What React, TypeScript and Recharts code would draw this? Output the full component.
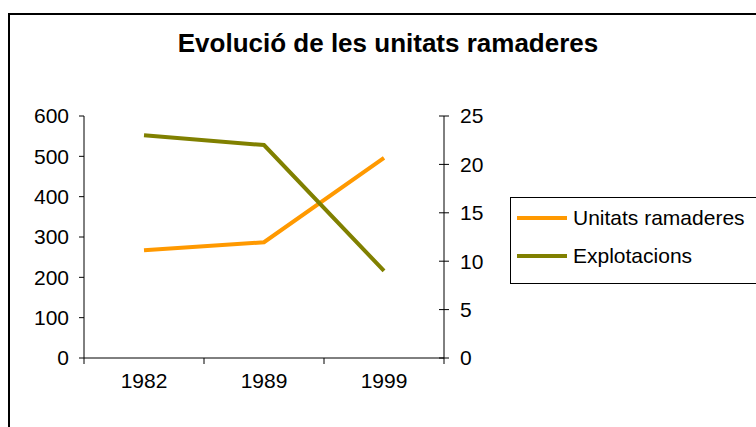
import React from 'react'
import { LineChart, Line, XAxis, YAxis, Legend } from 'recharts'

const years = ['1982', '1989', '1999']
const unitatsRamaderes = [267, 287, 496]
const explotacions = [23, 22, 9]
const leftTicks = [0, 100, 200, 300, 400, 500, 600]
const rightTicks = [0, 5, 10, 15, 20, 25]

const seriesInfo = [
  { key: 'unitats', name: 'Unitats ramaderes', color: '#FF9900', axis: 'left' },
  { key: 'explotacions', name: 'Explotacions', color: '#808000', axis: 'right' },
]

const chartData = years.map((year, i) => ({
  year,
  unitats: unitatsRamaderes[i],
  explotacions: explotacions[i],
}))

const FONT = '"Liberation Sans", Arial, Helvetica, sans-serif'
const FONT_SIZE = 21
// half of one category band (plot is 360px wide, 3 categories)
const HALF_BAND = 60

// x axis: label at category centre, tick marks at category boundaries
const CategoryTick = (props: any) => {
  const { x, y, payload, index, visibleTicksCount } = props
  const isLast = index === visibleTicksCount - 1
  return (
    <g>
      <line x1={x - HALF_BAND} y1={y} x2={x - HALF_BAND} y2={y + 6} stroke="#000" />
      {isLast && <line x1={x + HALF_BAND} y1={y} x2={x + HALF_BAND} y2={y + 6} stroke="#000" />}
      <text x={x} y={y + 15} dy="0.71em" textAnchor="middle" fill="#000" fontSize={FONT_SIZE} fontFamily={FONT}>
        {payload.value}
      </text>
    </g>
  )
}

// right axis: tick mark crosses the axis line
const RightTick = (props: any) => {
  const { x, y, payload } = props
  return (
    <g>
      <line x1={x - 21} y1={y} x2={x - 11} y2={y} stroke="#000" />
      <text x={x} y={y} dy="0.355em" textAnchor="start" fill="#000" fontSize={FONT_SIZE} fontFamily={FONT}>
        {payload.value}
      </text>
    </g>
  )
}

const LegendBox = () => (
  <div
    style={{
      width: 260,
      height: 87,
      border: '1px solid #000',
      background: '#fff',
      boxSizing: 'border-box',
      fontFamily: FONT,
      fontSize: FONT_SIZE,
      color: '#000',
      paddingTop: 1,
    }}
  >
    {seriesInfo.map(s => (
      <div key={s.key} style={{ display: 'flex', alignItems: 'center', height: 38 }}>
        <div style={{ width: 50, height: 4, background: s.color, marginLeft: 6, marginRight: 6 }} />
        <span>{s.name}</span>
      </div>
    ))}
  </div>
)

export default function App() {
  return (
    <div style={{ position: 'absolute', left: 0, top: 0, width: 756, height: 427, overflow: 'hidden', background: '#fff' }}>
      <div
        style={{
          position: 'absolute',
          left: 8,
          top: 13,
          width: 800,
          height: 500,
          border: '2px solid #000',
          boxSizing: 'border-box',
        }}
      />
      <div
        style={{
          position: 'absolute',
          left: 0,
          top: 28,
          width: 776,
          textAlign: 'center',
          fontFamily: FONT,
          fontWeight: 'bold',
          fontSize: 26,
          color: '#000',
        }}
      >
        Evolució de les unitats ramaderes
      </div>
      <div style={{ position: 'absolute', left: 0, top: 0 }}>
        <LineChart width={756} height={427} data={chartData} margin={{ top: 116, right: 0, bottom: 0, left: 0 }}>
          <XAxis
            dataKey="year"
            height={69}
            padding={{ left: HALF_BAND, right: HALF_BAND }}
            axisLine={{ stroke: '#000' }}
            tickLine={false}
            tickSize={0}
            tickMargin={0}
            tick={<CategoryTick />}
            interval={0}
          />
          <YAxis
            yAxisId="left"
            orientation="left"
            width={84}
            domain={[0, 600]}
            ticks={leftTicks}
            interval={0}
            axisLine={{ stroke: '#000' }}
            tickLine={{ stroke: '#000' }}
            tickSize={5}
            tickMargin={10}
            tick={{ fill: '#000', fontSize: FONT_SIZE, fontFamily: FONT }}
          />
          <YAxis
            yAxisId="right"
            orientation="right"
            width={312}
            domain={[0, 25]}
            ticks={rightTicks}
            interval={0}
            axisLine={{ stroke: '#000' }}
            tickLine={false}
            tickSize={0}
            tickMargin={16}
            tick={<RightTick />}
          />
          <Legend
            layout="vertical"
            align="center"
            verticalAlign="middle"
            wrapperStyle={{ position: 'absolute', left: 510, top: 197, width: 260, height: 87 }}
            content={<LegendBox />}
          />
          {seriesInfo.map(s => (
            <Line
              key={s.key}
              yAxisId={s.axis}
              dataKey={s.key}
              name={s.name}
              type="linear"
              stroke={s.color}
              strokeWidth={4}
              dot={false}
              activeDot={false}
              isAnimationActive={false}
            />
          ))}
        </LineChart>
      </div>
    </div>
  )
}
